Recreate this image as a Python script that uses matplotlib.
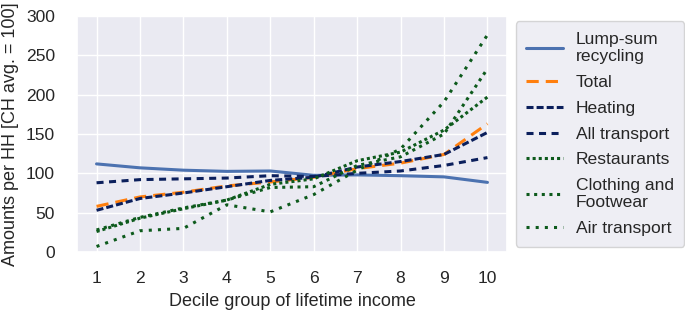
import numpy as np
import matplotlib
matplotlib.use("Agg")
import matplotlib.pyplot as plt
import seaborn as sns

# 데이터
deciles = np.arange(1, 11)
lump_sum = [112, 107, 104, 102.5, 103, 97.5, 98, 97, 95.5, 88.5]
total = [58, 70, 76, 84, 89, 95, 106, 113, 124, 163]
heating = [53, 68, 75, 83, 91, 95, 108, 115, 124, 152]
all_transport = [88, 92, 93, 94, 97, 96, 100, 103, 110, 120]
restaurants = [26, 43, 55, 66, 86, 93, 116, 127, 155, 197]
clothing = [28, 44, 56, 66, 82, 83, 110, 121, 150, 233]
air_transport = [7, 27, 30, 60, 51, 73, 104, 131, 191, 276]

sns.set_theme(style="darkgrid", context="notebook")
plt.rcParams["font.family"] = ["Liberation Sans", "DejaVu Sans"]

navy = "#0b1f5c"
green = "#0d5a1c"
lw = 2.2
fs = 12.6

fig, ax = plt.subplots(figsize=(6.85, 3.14), dpi=100)
fig.subplots_adjust(left=77 / 685, right=507 / 685, top=1 - 16 / 314, bottom=1 - 252 / 314)

ax.plot(deciles, lump_sum, color="#4c72b0", lw=lw, label="Lump-sum\nrecycling")
ax.plot(deciles, total, color="#ff7f0e", lw=lw, dashes=(4, 2.3), label="Total")
ax.plot(deciles, heating, color=navy, lw=lw, dashes=(2.3, 1), label="Heating")
ax.plot(deciles, all_transport, color=navy, lw=lw, dashes=(2.3, 1.8), label="All transport")
ax.plot(deciles, restaurants, color=green, lw=lw, dashes=(1, 1), label="Restaurants")
ax.plot(deciles, clothing, color=green, lw=lw, dashes=(1, 1.5), label="Clothing and\nFootwear")
ax.plot(deciles, air_transport, color=green, lw=lw, dashes=(1, 2), label="Air transport")

ax.set_ylim(0, 300)
ax.set_xticks(deciles)
ax.set_xlabel("Decile group of lifetime income", fontsize=13, labelpad=5.5)
ax.set_ylabel("Amounts per HH [CH avg. = 100]", fontsize=13, labelpad=5)
ax.tick_params(axis="x", labelsize=fs, pad=7.5)
ax.tick_params(axis="y", labelsize=fs, pad=9.8)

# 범례는 축 오른쪽 바깥, 세로 가운데
ax.legend(loc="center left", bbox_to_anchor=(1, 0.5), fontsize=fs,
          handlelength=2.1, handletextpad=0.72, labelspacing=0.6, borderpad=0.6)

fig.savefig("out.png", dpi=100)
